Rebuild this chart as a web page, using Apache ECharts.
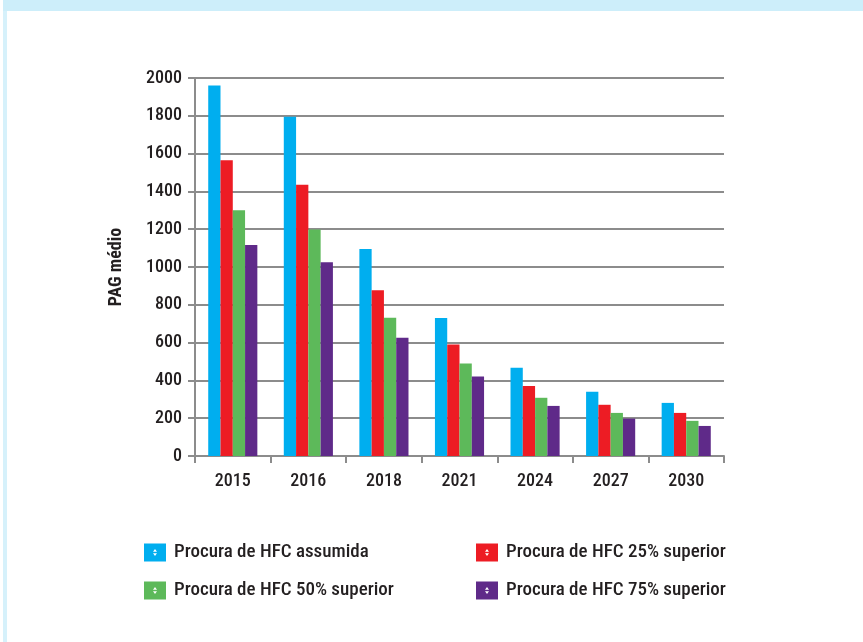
<!DOCTYPE html>
<html><head><meta charset="utf-8">
<script src="https://cdn.jsdelivr.net/npm/echarts@6/dist/echarts.min.js"></script>
<style>html,body{margin:0;padding:0;background:#fff}#c{width:863px;height:642px}</style>
</head><body><div id="c"></div>
<script>
const categories = ['2015','2016','2018','2021','2024','2027','2030'];
const seriesNames = ['Procura de HFC assumida','Procura de HFC 25% superior','Procura de HFC 50% superior','Procura de HFC 75% superior'];
const assumida = [1960, 1795, 1095, 730, 467, 340, 281];
const sup25 = [1565, 1435, 877, 590, 370, 271, 228];
const sup50 = [1300, 1198, 731, 489, 308, 228, 186];
const sup75 = [1116, 1025, 626, 420, 265, 198, 159];
const yTicks = [0,200,400,600,800,1000,1200,1400,1600,1800,2000];
const colors = ['#00AEEF','#ED1C24','#5DB95A','#5F2A89'];
const FONT = '"Roboto Condensed","Liberation Sans Narrow",sans-serif';
const values = [assumida, sup25, sup50, sup75];
// legend marker: square with small white up/down arrows (holes via opposite winding)
const ICON = 'path://M0 0L22 0L22 18L0 18Z M9 8.3L13 8.3L11 5.6Z M9 9.7L11 12.4L13 9.7Z';

const chart = echarts.init(document.getElementById('c'), null, {renderer:'canvas'});
chart.setOption({
  animation:false,
  backgroundColor:'#ffffff',
  color: colors,
  graphic:[
    {type:'rect', shape:{x:3,y:0,width:860,height:11}, style:{fill:'#CDEEFA'}, silent:true},
    {type:'rect', shape:{x:3,y:11,width:4,height:631}, style:{fill:'#D6F1FB'}, silent:true}
  ],
  grid:{left:195, right:139, top:78, bottom:186, containLabel:false},
  legend:[
    {left:144, top:543, orient:'vertical', padding:0, itemWidth:22, itemHeight:18, itemGap:19, icon:ICON,
     data:[seriesNames[0], seriesNames[2]],
     textStyle:{fontFamily:FONT, fontSize:19, fontWeight:500, lineHeight:18, color:'#231F20', padding:[0,0,0,3]}},
    {left:476, top:543, orient:'vertical', padding:0, itemWidth:22, itemHeight:18, itemGap:19, icon:ICON,
     data:[seriesNames[1], seriesNames[3]],
     textStyle:{fontFamily:FONT, fontSize:19, fontWeight:500, lineHeight:18, color:'#231F20', padding:[0,0,0,3]}}
  ],
  xAxis:{
    type:'category', data:categories,
    axisLine:{lineStyle:{color:'#8C8C8C', width:2}},
    axisTick:{show:true, length:7, alignWithLabel:false, lineStyle:{color:'#8C8C8C', width:2}},
    axisLabel:{fontFamily:FONT, fontSize:18, fontWeight:500, color:'#231F20', margin:16}
  },
  yAxis:{
    type:'value', min:yTicks[0], max:yTicks[yTicks.length-1], interval:200,
    name:'PAG médio', nameLocation:'middle', nameGap:70, nameRotate:90,
    nameTextStyle:{fontFamily:FONT, fontSize:18, fontWeight:'bold', color:'#231F20'},
    axisLine:{show:true, lineStyle:{color:'#8C8C8C', width:2}},
    axisTick:{show:true, length:7, lineStyle:{color:'#8C8C8C', width:2}},
    splitLine:{show:true, lineStyle:{color:'#8C8C8C', width:2}},
    axisLabel:{fontFamily:FONT, fontSize:18, fontWeight:500, color:'#231F20', margin:13, formatter:v=>String(v)}
  },
  series: values.map((v,i)=>({
    name:seriesNames[i], type:'bar', data:v, barGap:'0%', barCategoryGap:'35%',
    itemStyle:{color:colors[i]}
  }))
});
</script></body></html>
